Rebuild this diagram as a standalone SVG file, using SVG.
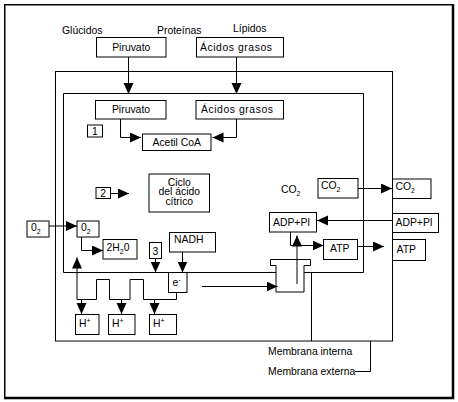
<svg xmlns="http://www.w3.org/2000/svg" width="458" height="402" viewBox="0 0 458 402">
<defs>
<style>
text{font-family:"Liberation Sans",Arial,sans-serif;font-size:10.4px;fill:#000}
.b{fill:#fff;stroke:#000;stroke-width:1}
.l{fill:none;stroke:#000;stroke-width:1}
.c{text-anchor:middle}
.s{font-size:7px}
</style>
<marker id="ah" markerUnits="userSpaceOnUse" markerWidth="12" markerHeight="11" refX="11" refY="5" orient="auto">
<path d="M0,0 L11,5 L0,10 Z" fill="#000"/>
</marker>
</defs>
<rect width="458" height="402" fill="#fff"/>
<g id="frame">
<rect x="4.75" y="4.75" width="447.75" height="392.75" fill="none" stroke="#000" stroke-width="1.5"/>
<path d="M453.5,4 V398.5 H4" fill="none" stroke="#000" stroke-width="1.5"/>
</g>
<g id="membranes">
<rect class="l" x="55.5" y="71.5" width="337" height="269.5"/>
<path class="l" d="M276,272.5 H63.5 V93.5 H363.5 V272.5 H304"/>
<path class="l" d="M311.5,272.5 V341"/>
<path id="sintetasa" class="b" d="M270.5,259.5 H310.5 V265.5 H304 V292 H276 V265.5 H270.5 Z"/>
</g>
<g id="labels">
<text x="62" y="33.5">Glúcidos</text>
<text x="157" y="33.5">Proteínas</text>
<text x="233" y="31.5">Lípidos</text>
<text x="268" y="355">Membrana interna</text>
<text x="268" y="375">Membrana externa</text>
<text x="281" y="193">CO<tspan class="s" dy="3">2</tspan></text>
</g>
<g id="piruvato1"><rect class="b" x="96.5" y="37.5" width="69.5" height="19.5"/><text class="c" x="131.25" y="50.5">Piruvato</text></g>
<g id="acidos1"><rect class="b" x="196.5" y="37.5" width="87" height="19.5"/><text x="200" y="50.5" textLength="72" lengthAdjust="spacing">Ácidos grasos</text></g>
<g id="piruvato2"><rect class="b" x="95.5" y="100.5" width="70.5" height="18.5"/><text class="c" x="131" y="113">Piruvato</text></g>
<g id="acidos2"><rect class="b" x="196" y="100.5" width="87.5" height="18.5"/><text x="201" y="113" textLength="72" lengthAdjust="spacing">Ácidos grasos</text></g>
<g id="n1"><rect class="b" x="87.5" y="125" width="15" height="12"/><text class="c" x="95" y="134.8">1</text></g>
<g id="acetil"><rect class="b" x="142.5" y="134" width="68.5" height="16.5"/><text class="c" x="176.75" y="146">Acetil CoA</text></g>
<g id="n2"><rect class="b" x="96" y="187.5" width="14.5" height="11"/><text class="c" x="103.25" y="197">2</text></g>
<g id="ciclo"><rect class="b" x="149" y="174" width="60.5" height="38"/><text class="c" x="179.25" y="185.5">Ciclo</text><text class="c" x="179.25" y="195">del ácido</text><text class="c" x="179.25" y="204.5">cítrico</text></g>
<g id="o2ext"><rect class="b" x="27" y="221" width="22" height="16"/><text x="31" y="231">0<tspan class="s" dy="3">2</tspan></text></g>
<g id="o2int"><rect class="b" x="77" y="221" width="22" height="16"/><text x="81" y="231">0<tspan class="s" dy="3">2</tspan></text></g>
<g id="agua"><rect class="b" x="103" y="239.5" width="34" height="19.5"/><text x="106.5" y="251">2H<tspan class="s" dy="3">2</tspan><tspan dy="-3">0</tspan></text></g>
<g id="n3"><rect class="b" x="149.5" y="242.5" width="12" height="16"/><text class="c" x="155.5" y="255">3</text></g>
<g id="nadh"><rect class="b" x="169.5" y="232.5" width="46" height="19.5"/><text x="174" y="243.3">NADH</text></g>
<g id="electron"><rect class="b" x="168.5" y="272.5" width="18.5" height="20"/><text x="172.5" y="286">e<tspan class="s" dy="-4">-</tspan></text></g>
<g id="h1"><rect class="b" x="75.5" y="314.5" width="23.5" height="20"/><text x="79" y="327">H<tspan class="s" dy="-4">+</tspan></text></g>
<g id="h2"><rect class="b" x="108.5" y="314.5" width="26.5" height="20"/><text x="112" y="327">H<tspan class="s" dy="-4">+</tspan></text></g>
<g id="h3"><rect class="b" x="149.5" y="314.5" width="27" height="20"/><text x="153" y="327">H<tspan class="s" dy="-4">+</tspan></text></g>
<g id="co2int"><rect class="b" x="318" y="178.5" width="40" height="19.5"/><text x="321" y="189">CO<tspan class="s" dy="3">2</tspan></text></g>
<g id="co2ext"><rect class="b" x="392.5" y="179" width="38.5" height="19.5"/><text x="395.5" y="189.5">CO<tspan class="s" dy="3">2</tspan></text></g>
<g id="adpint"><rect class="b" x="269.5" y="212.5" width="47" height="19.5"/><text x="273" y="225.5">ADP+PI</text></g>
<g id="adpext"><rect class="b" x="392.5" y="213.5" width="46" height="19"/><text x="395.5" y="226">ADP+PI</text></g>
<g id="atpint"><rect class="b" x="323.5" y="239.5" width="34" height="20"/><text x="330" y="251.5">ATP</text></g>
<g id="atpext"><rect class="b" x="392.5" y="239.5" width="33" height="21"/><text x="396.5" y="252.5">ATP</text></g>
<g id="connectors" class="l" fill="none" stroke="#000">
<path class="l" d="M128.5,57 V94" marker-end="url(#ah)"/>
<path class="l" d="M236.5,57 V94" marker-end="url(#ah)"/>
<path class="l" d="M120.5,119 V137.5 H141" marker-end="url(#ah)"/>
<path class="l" d="M236.5,119 V137.5 H212.5" marker-end="url(#ah)"/>
<path class="l" d="M110.5,193.5 H129" marker-end="url(#ah)"/>
<path class="l" d="M49,226 H77" marker-end="url(#ah)"/>
<path class="l" d="M81.5,237 V250.5 H103" marker-end="url(#ah)"/>
<path class="l" d="M155.5,258.5 V272.5" marker-end="url(#ah)"/>
<path class="l" d="M182.5,252 V272.5" marker-end="url(#ah)"/>
<path class="l" d="M77,299.5 H96.5 V279.5 H109.5 V299.5 H130 V279.5 H143.5 V299.5 H176.5 V292.5"/>
<path class="l" d="M77,299.5 V257.5" marker-end="url(#ah)"/>
<path class="l" d="M81.5,299.5 V314" marker-end="url(#ah)"/>
<path class="l" d="M121.5,299.5 V314" marker-end="url(#ah)"/>
<path class="l" d="M154.5,299.5 V314" marker-end="url(#ah)"/>
<path class="l" d="M202,286.5 H277.5" marker-end="url(#ah)"/>
<path class="l" d="M297,284 V235.5" marker-end="url(#ah)"/>
<path class="l" d="M290.5,232 V245.5 H323.5" marker-end="url(#ah)"/>
<path class="l" d="M358,188.5 H392" marker-end="url(#ah)"/>
<path class="l" d="M392.5,220.5 H317" marker-end="url(#ah)"/>
<path class="l" d="M357.5,246.5 H384" marker-end="url(#ah)"/>
<path class="l" d="M370.5,341 V371.5 H355"/>
</g>
</svg>
